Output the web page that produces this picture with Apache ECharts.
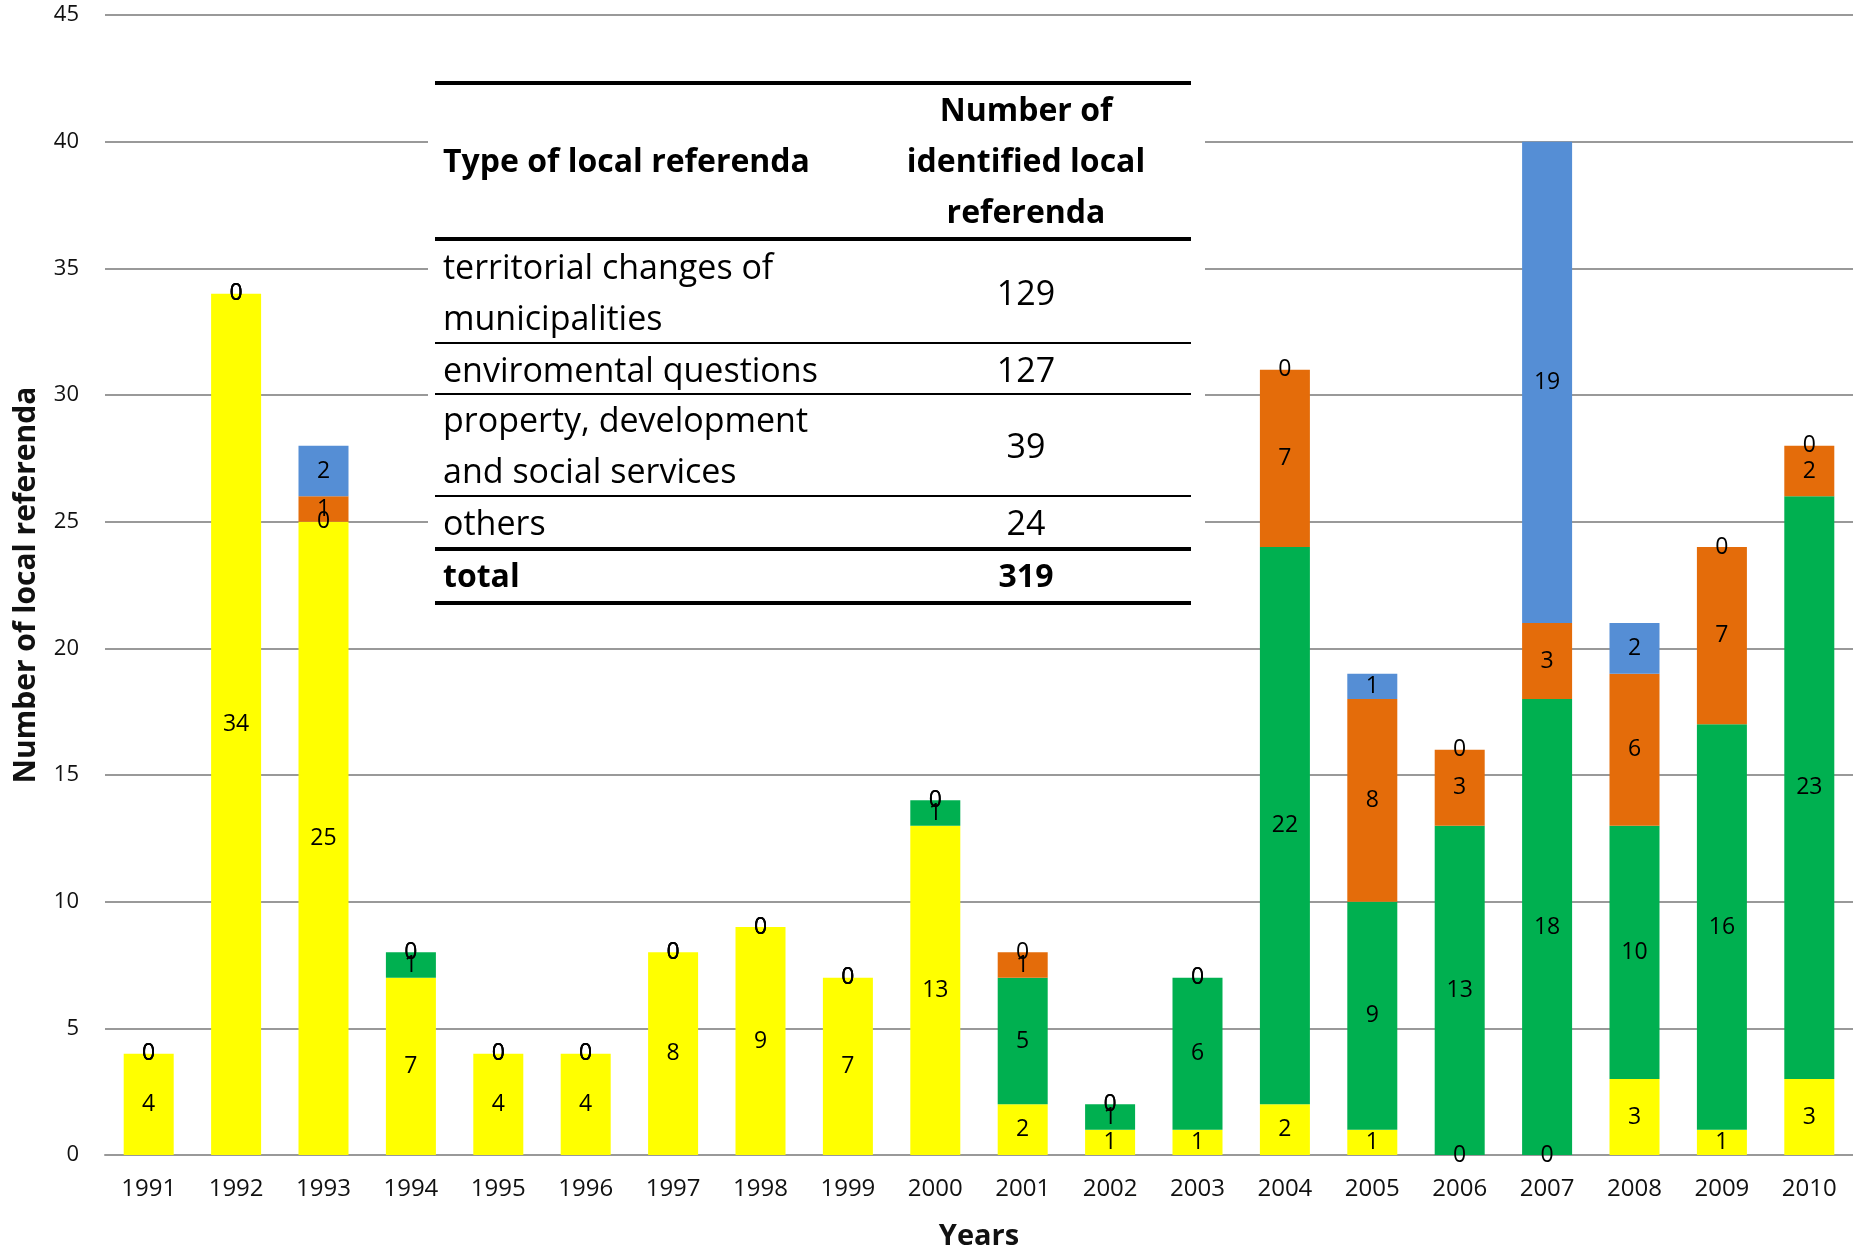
<!DOCTYPE html>
<html>
<head>
<meta charset="utf-8">
<script src="https://cdn.jsdelivr.net/npm/echarts@6/dist/echarts.min.js"></script>
<style>
html,body{margin:0;padding:0;background:#fff;}
#chart{width:1853px;height:1253px;}
</style>
</head>
<body>
<div id="chart"></div>
<script>
var years = ['1991','1992','1993','1994','1995','1996','1997','1998','1999','2000','2001','2002','2003','2004','2005','2006','2007','2008','2009','2010'];
var territorial = [4,34,25,7,4,4,8,9,7,13,2,1,1,2,1,0,0,3,1,3];
var environmental = [0,0,0,1,0,0,0,0,0,1,5,1,6,22,9,13,18,10,16,23];
var property = [0,0,1,0,0,0,0,0,0,0,1,0,0,7,8,3,3,6,7,2];
var others = [0,0,2,0,0,0,0,0,0,0,0,0,0,0,1,0,19,2,0,0];
var seriesNames = ['territorial changes of municipalities','enviromental questions','property, development and social services','others'];
var seriesColors = ['#FFFF00','#00B050','#E46C0A','#558ED5'];

var tableHeader = ['Type of local referenda', 'Number of\nidentified local\nreferenda'];
var tableLabels = ['territorial changes of\nmunicipalities','enviromental questions','property, development\nand social services','others'];
var tableCounts = ['129','127','39','24'];
var tableTotal = ['total','319'];

var FONT = '"Open Sans", Lato, sans-serif';

var chart = echarts.init(document.getElementById('chart'), null, {renderer:'canvas'});

function mkSeries(name, data, color){
  return {
    name: name, type: 'bar', stack: 'all', data: data, barWidth: 50,
    itemStyle: {color: color},
    label: {show: true, position: 'inside', color: '#000', fontFamily: FONT, fontSize: 23},
    emphasis: {disabled: true}
  };
}

// table graphic
var TX0 = 435, TX1 = 1191, LX = 443, RX = 1026;
var g = [];
g.push({type:'rect', shape:{x:428,y:70,width:777,height:545}, style:{fill:'#fff'}, z:100});
function hline(y, w){ g.push({type:'line', shape:{x1:TX0,y1:y,x2:TX1,y2:y}, style:{stroke:'#000', lineWidth:w}, z:101}); }
[83,239,549,603].forEach(function(y){hline(y,4);});
[343,394,496].forEach(function(y){hline(y,2);});
function txt(x, y, s, align, bold){
  g.push({type:'text', x:x, y:y, z:102, style:{text:s, fill:'#000', font:(bold?'bold 32px ':'34px ')+FONT, align:align, verticalAlign:'middle', lineHeight:51}});
}
txt(LX, 163, tableHeader[0], 'left', true);
txt(RX, 163, tableHeader[1], 'center', true);
var rowY = [295, 372, 448, 525];
for (var i=0;i<tableLabels.length;i++){
  txt(LX, rowY[i], tableLabels[i], 'left', false);
  txt(RX, rowY[i], tableCounts[i], 'center', false);
}
txt(LX, 578, tableTotal[0], 'left', true);
txt(RX, 578, tableTotal[1], 'center', true);

chart.setOption({
  animation: false,
  backgroundColor: '#fff',
  grid: {left: 105, right: 0, top: 15, bottom: 98, containLabel: false, outerBoundsMode: 'none'},
  xAxis: {
    type: 'category', data: years,
    axisTick: {show: false},
    axisLine: {lineStyle: {color: '#999', width: 2}},
    axisLabel: {color: '#111', fontFamily: FONT, fontSize: 24, margin: 22},
    name: 'Years', nameLocation: 'middle', nameGap: 67,
    nameTextStyle: {color: '#111', fontFamily: FONT, fontSize: 29, fontWeight: 'bold'}
  },
  yAxis: {
    type: 'value', min: 0, max: 45, interval: 5,
    axisLine: {show: false}, axisTick: {show: false},
    splitLine: {lineStyle: {color: '#999', width: 2}},
    axisLabel: {color: '#111', fontFamily: FONT, fontSize: 22, margin: 26},
    name: 'Number of local referenda', nameLocation: 'middle', nameGap: 64,
    nameTextStyle: {color: '#111', fontFamily: FONT, fontSize: 30, fontWeight: 'bold'}
  },
  series: [
    mkSeries(seriesNames[0], territorial, seriesColors[0]),
    mkSeries(seriesNames[1], environmental, seriesColors[1]),
    mkSeries(seriesNames[2], property, seriesColors[2]),
    mkSeries(seriesNames[3], others, seriesColors[3])
  ],
  graphic: g
});
</script>
</body>
</html>
